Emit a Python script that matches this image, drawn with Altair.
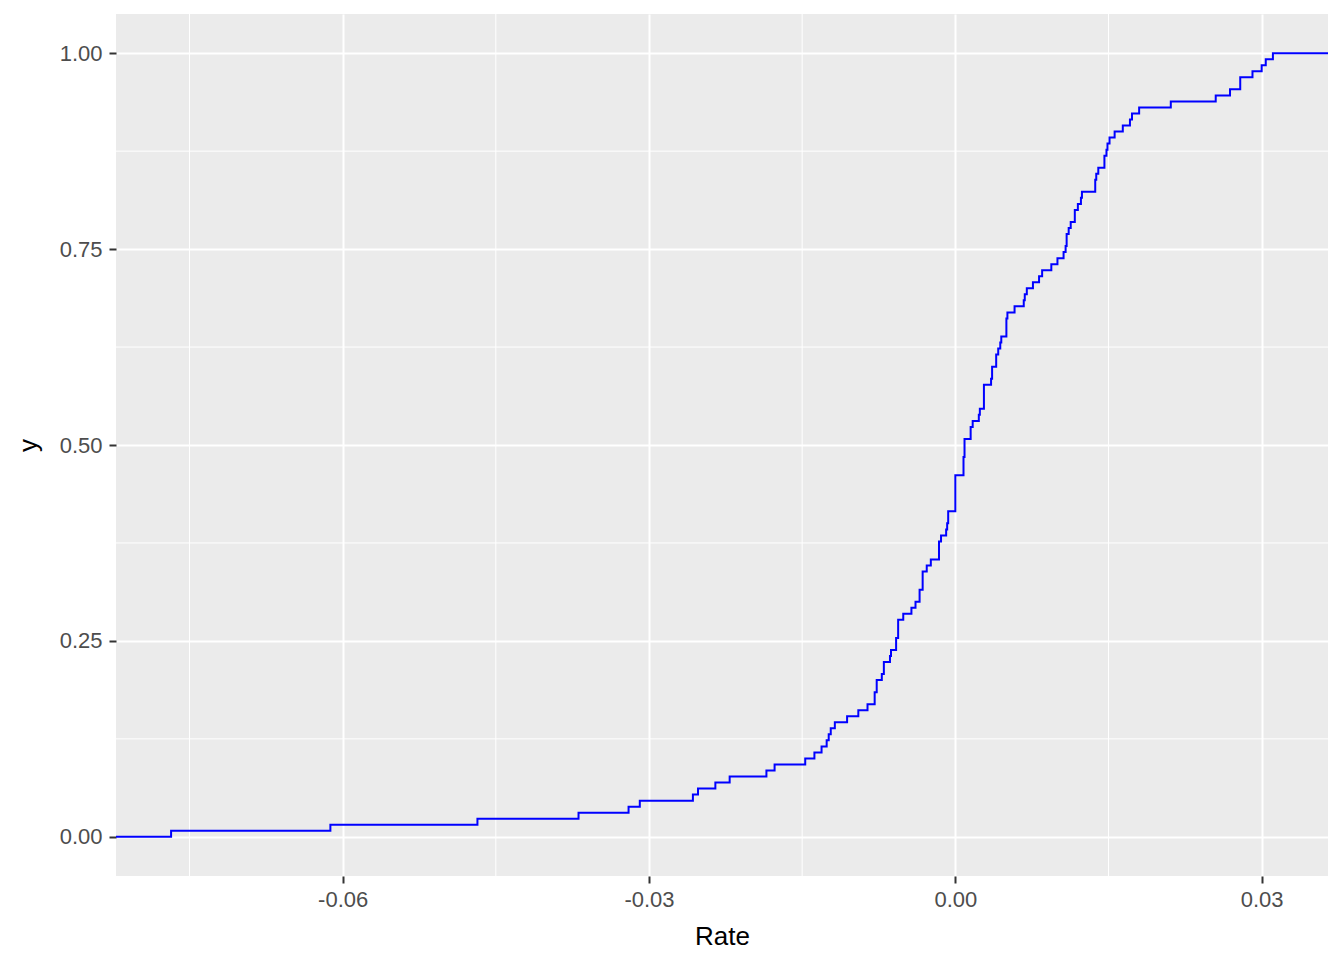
import altair as alt
import numpy as np
import pandas as pd

# Observed rates (read from the ECDF steps), repeated values = ties
rate = [
    -0.0768, -0.0612, -0.0468, -0.0369, -0.0320, -0.0309, -0.0257, -0.0252, -0.0235, -0.0221,
    -0.0185, -0.0177, -0.0147, -0.0138, -0.0131, -0.0126, -0.0124, -0.0122, -0.0118, -0.0106,
    -0.0095, -0.0086, -0.0079, -0.0079, -0.0077, -0.0077, -0.0072, -0.0070, -0.0070, -0.0064,
    -0.0063, -0.0058, -0.0058, -0.0056, -0.0056, -0.0056, -0.0051, -0.0043, -0.0039, -0.0035,
    -0.0035, -0.0032, -0.0032, -0.0032, -0.0028, -0.0024, -0.0016, -0.0016, -0.0016, -0.0014,
    -0.0009, -0.0008, -0.0007, -0.0007, 0.0, 0.0, 0.0, 0.0, 0.0, 0.0,
    0.0008, 0.0008, 0.0008, 0.0009, 0.0009, 0.0009, 0.0015, 0.0015, 0.0017, 0.0023,
    0.0024, 0.0028, 0.0028, 0.0028, 0.0028, 0.0035, 0.0036, 0.0036, 0.0040, 0.0040,
    0.0042, 0.0044, 0.0045, 0.0050, 0.0050, 0.0050, 0.0051, 0.0058, 0.0067, 0.0068,
    0.0070, 0.0076, 0.0082, 0.0085, 0.0094, 0.0100, 0.0106, 0.0108, 0.0109, 0.0109,
    0.0111, 0.0113, 0.0117, 0.0117, 0.0120, 0.0123, 0.0124, 0.0137, 0.0137, 0.0138,
    0.0140, 0.0146, 0.0146, 0.0148, 0.0149, 0.0151, 0.0156, 0.0164, 0.0171, 0.0173,
    0.0180, 0.0211, 0.0255, 0.0269, 0.0279, 0.0279, 0.0291, 0.0300, 0.0304, 0.0311,
]

x_breaks = [-0.06, -0.03, 0.0, 0.03]
x_minor = [-0.075, -0.045, -0.015, 0.015]
y_breaks = [0.0, 0.25, 0.5, 0.75, 1.0]
y_minor = [0.125, 0.375, 0.625, 0.875]

# ECDF (like ggplot2 stat_ecdf, padded to the panel edges)
s = np.sort(np.array(rate))
n = len(s)
uniq, counts = np.unique(s, return_counts=True)
F = np.cumsum(counts) / n
rng = s.max() - s.min()
lo = s.min() - 0.05 * rng
hi = s.max() + 0.05 * rng
ecdf = pd.DataFrame({
    "Rate": np.concatenate([[lo], uniq, [hi]]),
    "y": np.concatenate([[0.0], F, [1.0]]),
})

xscale = alt.Scale(domain=[lo, hi], nice=False, zero=False)
yscale = alt.Scale(domain=[-0.05, 1.05], nice=False, zero=False)

FONT = "Liberation Sans"
LABEL_EXPR = "replace(format(datum.value, '.2f'), '\u2212', '-')"

xaxis = alt.Axis(
    values=x_breaks, labelExpr=LABEL_EXPR, title="Rate", grid=True, gridColor="white",
    gridWidth=2, domain=False, tickColor="#333333", tickSize=7, tickWidth=2,
    labelFontSize=22, labelColor="#4D4D4D", labelFont=FONT, labelPadding=6,
    titleFontSize=26, titleFont=FONT, titleColor="black", titleFontWeight="normal",
    titleBaseline="alphabetic", titleY=68,
)
yaxis = alt.Axis(
    values=y_breaks, labelExpr=LABEL_EXPR, title="y", grid=True, gridColor="white",
    gridWidth=2, domain=False, tickColor="#333333", tickSize=7, tickWidth=2,
    labelFontSize=22, labelColor="#4D4D4D", labelFont=FONT, labelPadding=7,
    titleFontSize=26, titleFont=FONT, titleColor="black", titleFontWeight="normal",
    titleBaseline="alphabetic", titleX=-80, titleY=431, titleAngle=270,
)

minor_x = alt.Chart(pd.DataFrame({"v": x_minor})).mark_rule(
    color="white", strokeWidth=1
).encode(x=alt.X("v:Q", scale=xscale, axis=xaxis, title="Rate"))

minor_y = alt.Chart(pd.DataFrame({"v": y_minor})).mark_rule(
    color="white", strokeWidth=1
).encode(y=alt.Y("v:Q", scale=yscale, axis=yaxis, title="y"))

line = alt.Chart(ecdf).mark_line(
    interpolate="step-after", color="#0000FF", strokeWidth=2
).encode(
    x=alt.X("Rate:Q", scale=xscale, axis=xaxis, title="Rate"),
    y=alt.Y("y:Q", scale=yscale, axis=yaxis, title="y"),
)

chart = alt.layer(minor_x, minor_y, line).properties(
    width=1212, height=862,
    autosize=alt.AutoSizeParams(type="none"),
    padding={"left": 108, "top": 6, "right": 8, "bottom": 76},
    background="white",
).configure_view(fill="#EBEBEB", stroke=None)

chart.save("out.html", embed_options={"renderer": "svg", "actions": False})
